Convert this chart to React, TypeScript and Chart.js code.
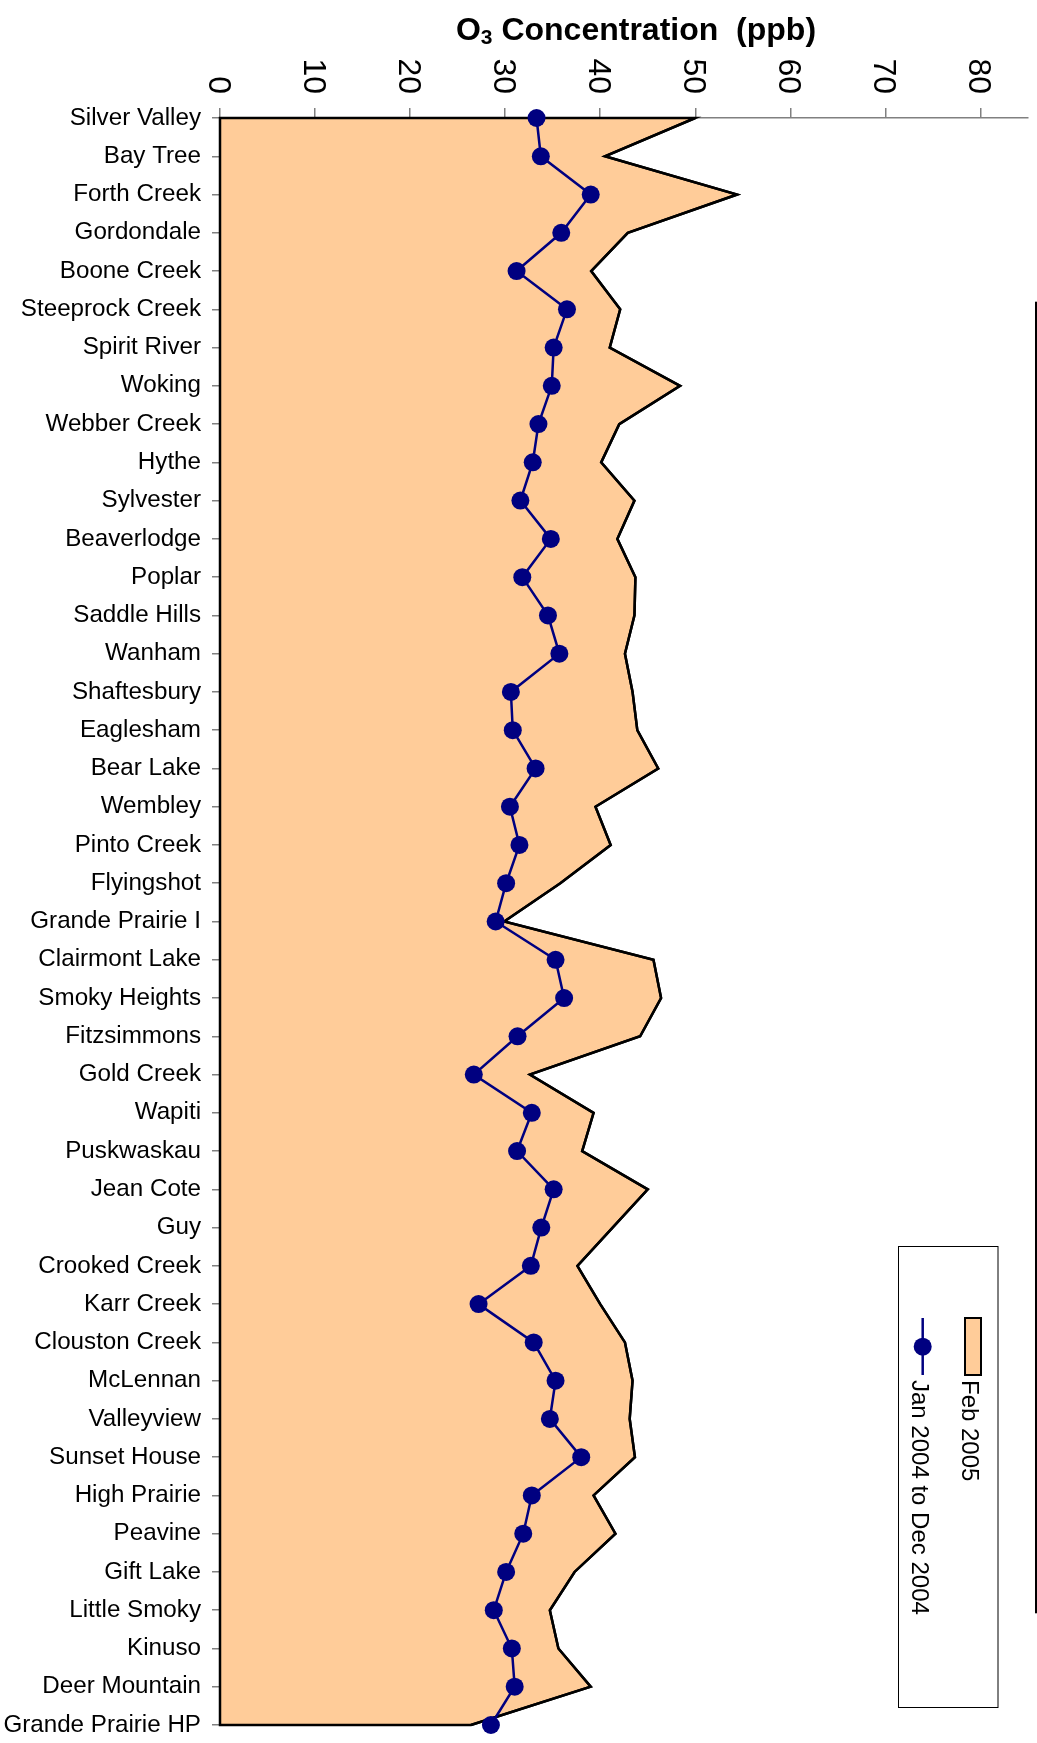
import React, { useEffect, useRef } from "react";
import { Chart, registerables } from "chart.js";

Chart.register(...registerables);

// ---------- data ----------
const stations = [
  "Silver Valley", "Bay Tree", "Forth Creek", "Gordondale", "Boone Creek",
  "Steeprock Creek", "Spirit River", "Woking", "Webber Creek", "Hythe",
  "Sylvester", "Beaverlodge", "Poplar", "Saddle Hills", "Wanham",
  "Shaftesbury", "Eaglesham", "Bear Lake", "Wembley", "Pinto Creek",
  "Flyingshot", "Grande Prairie I", "Clairmont Lake", "Smoky Heights", "Fitzsimmons",
  "Gold Creek", "Wapiti", "Puskwaskau", "Jean Cote", "Guy",
  "Crooked Creek", "Karr Creek", "Clouston Creek", "McLennan", "Valleyview",
  "Sunset House", "High Prairie", "Peavine", "Gift Lake", "Little Smoky",
  "Kinuso", "Deer Mountain", "Grande Prairie HP",
];

const feb2005 = [
  50.0, 40.5, 54.4, 42.9, 39.05,
  42.1, 41.0, 48.4, 42.0, 40.1,
  43.6, 41.8, 43.7, 43.6, 42.6,
  43.4, 43.9, 46.1, 39.5, 41.1,
  35.8, 29.9, 45.6, 46.4, 44.2,
  32.6, 39.3, 38.1, 45.0, 41.3,
  37.6, 40.0, 42.6, 43.4, 43.1,
  43.65, 39.3, 41.6, 37.3, 34.7,
  35.6, 39.0, 26.4,
];

const jan2004ToDec2004 = [
  33.3, 33.75, 39.0, 35.9, 31.2,
  36.5, 35.1, 34.9, 33.5, 32.9,
  31.6, 34.8, 31.8, 34.5, 35.7,
  30.6, 30.8, 33.2, 30.5, 31.5,
  30.1, 29.0, 35.3, 36.2, 31.3,
  26.7, 32.8, 31.25, 35.1, 33.8,
  32.7, 27.2, 33.0, 35.3, 34.7,
  38.0, 32.8, 31.9, 30.1, 28.8,
  30.7, 31.0, 28.5,
];

const xTickValues = [0, 10, 20, 30, 40, 50, 60, 70, 80];
const xAxisMax = 85;

const seriesNames = ["Feb 2005", "Jan 2004 to Dec 2004"];
const titleMain = "O";
const titleSub = "3";
const titleRest = " Concentration  (ppb)";

// ---------- styles ----------
const FONT = '"Liberation Sans", Arial, Helvetica, sans-serif';
const AREA_FILL = "#FFCC99";
const NAVY = "#000080";
const AXIS_GRAY = "#808080";

const decorPlugin = {
  id: "decor",
  afterDatasetDraw(chart: any, args: any) {
    if (args.index !== 0) return;
    const ctx = chart.ctx;
    const pts = args.meta.data;
    if (!pts || !pts.length) return;
    const x0 = chart.scales.x.getPixelForValue(0);
    ctx.save();
    ctx.beginPath();
    ctx.moveTo(x0, pts[0].y);
    for (const p of pts) ctx.lineTo(p.x, p.y);
    ctx.lineTo(x0, pts[pts.length - 1].y);
    ctx.closePath();
    ctx.lineWidth = 2.5;
    ctx.lineJoin = "miter";
    ctx.strokeStyle = "#000";
    ctx.stroke();
    ctx.restore();
  },
  afterDraw(chart: any) {
    const ctx = chart.ctx;
    const xs = chart.scales.x;

    // rotated value-axis tick labels
    ctx.save();
    ctx.fillStyle = "#000";
    ctx.font = `32px ${FONT}`;
    ctx.textAlign = "right";
    ctx.textBaseline = "alphabetic";
    for (const t of xs.ticks) {
      const px = xs.getPixelForValue(t.value);
      ctx.save();
      ctx.translate(px, 94);
      ctx.rotate(Math.PI / 2);
      ctx.fillText(String(t.value), 0, 11.5);
      ctx.restore();
    }
    ctx.restore();

    // title with subscript
    ctx.save();
    ctx.fillStyle = "#000";
    ctx.textAlign = "left";
    ctx.textBaseline = "alphabetic";
    const mainFont = `bold 32px ${FONT}`;
    const subFont = `bold 21px ${FONT}`;
    ctx.font = mainFont;
    const wMain = ctx.measureText(titleMain).width;
    const wRest = ctx.measureText(titleRest).width;
    ctx.font = subFont;
    const wSub = ctx.measureText(titleSub).width;
    const total = wMain + wSub + wRest;
    let tx = 636 - total / 2;
    ctx.font = mainFont;
    ctx.fillText(titleMain, tx, 40);
    tx += wMain;
    ctx.font = subFont;
    ctx.fillText(titleSub, tx, 43.5);
    tx += wSub;
    ctx.font = mainFont;
    ctx.fillText(titleRest, tx, 40);
    ctx.restore();

    // legend (rotated)
    const ds = chart.data.datasets;
    ctx.save();
    ctx.fillStyle = "#fff";
    ctx.fillRect(898.5, 1246.5, 99.5, 461);
    ctx.strokeStyle = "#000";
    ctx.lineWidth = 1;
    ctx.strokeRect(898.5, 1246.5, 99.5, 461);

    // area swatch
    ctx.fillStyle = ds[0].backgroundColor;
    ctx.fillRect(965, 1318, 16, 57);
    ctx.strokeStyle = "#000";
    ctx.lineWidth = 2;
    ctx.strokeRect(965, 1318, 16, 57);

    // line swatch
    ctx.strokeStyle = NAVY;
    ctx.lineWidth = 2.5;
    ctx.beginPath();
    ctx.moveTo(922.7, 1318);
    ctx.lineTo(922.7, 1375);
    ctx.stroke();
    ctx.fillStyle = NAVY;
    ctx.beginPath();
    ctx.arc(922.7, 1346.7, 9, 0, Math.PI * 2);
    ctx.fill();

    ctx.fillStyle = "#000";
    ctx.font = `24px ${FONT}`;
    ctx.textAlign = "left";
    ctx.textBaseline = "alphabetic";
    ctx.save();
    ctx.translate(962, 1380);
    ctx.rotate(Math.PI / 2);
    ctx.fillText(ds[0].label, 0, 0);
    ctx.restore();
    ctx.save();
    ctx.translate(912, 1380);
    ctx.rotate(Math.PI / 2);
    ctx.fillText(ds[1].label, 0, 0);
    ctx.restore();
    ctx.restore();

    // right border line
    ctx.save();
    ctx.fillStyle = "#000";
    ctx.fillRect(1035, 301.7, 2, 1311.6);
    ctx.restore();
  },
};

export default function App() {
  const canvasRef = useRef<HTMLCanvasElement | null>(null);

  useEffect(() => {
    document.body.style.margin = "0";
    const canvas = canvasRef.current;
    if (!canvas) return;
    const chart = new Chart(canvas, {
      type: "line",
      data: {
        labels: stations,
        datasets: [
          {
            label: seriesNames[0],
            data: feb2005,
            fill: "origin",
            backgroundColor: AREA_FILL,
            borderColor: "#000",
            borderWidth: 2.5,
            pointRadius: 0,
            pointHoverRadius: 0,
            tension: 0,
            order: 2,
          },
          {
            label: seriesNames[1],
            data: jan2004ToDec2004,
            fill: false,
            borderColor: NAVY,
            backgroundColor: NAVY,
            borderWidth: 2.5,
            pointRadius: 9,
            pointHoverRadius: 9,
            pointBackgroundColor: NAVY,
            pointBorderWidth: 0,
            tension: 0,
            order: 1,
            clip: false,
          },
        ],
      },
      options: {
        indexAxis: "y",
        animation: false,
        responsive: false,
        events: [],
        layout: { padding: { left: 0, top: 0, right: 1, bottom: 18 } },
        plugins: {
          legend: { display: false },
          tooltip: { enabled: false },
          title: { display: false },
        },
        scales: {
          x: {
            type: "linear",
            position: "top",
            min: 0,
            max: xAxisMax,
            ticks: { stepSize: 10, display: false },
            afterBuildTicks: (s: any) => {
              s.ticks = xTickValues.map((v) => ({ value: v }));
            },
            afterFit: (s: any) => {
              s.height = 118;
              s.paddingLeft = 0;
              s.paddingRight = 0;
            },
            grid: {
              drawOnChartArea: false,
              drawTicks: true,
              tickLength: 10,
              color: AXIS_GRAY,
              lineWidth: 1.5,
            },
            border: { display: true, color: AXIS_GRAY, width: 1.5 },
          },
          y: {
            type: "category",
            offset: false,
            ticks: {
              autoSkip: false,
              font: { family: FONT, size: 24.2 },
              color: "#000",
              padding: 11,
            },
            afterFit: (s: any) => {
              s.width = 220;
              s.paddingTop = 0;
              s.paddingBottom = 0;
            },
            grid: {
              drawOnChartArea: false,
              drawTicks: true,
              tickLength: 8,
              color: AXIS_GRAY,
              lineWidth: 1.5,
            },
            border: { display: true, color: "#000", width: 2 },
          },
        },
      } as any,
      plugins: [decorPlugin],
    });
    return () => chart.destroy();
  }, []);

  return (
    <div style={{ width: 1037, height: 1743, position: "relative" }}>
      <canvas
        ref={canvasRef}
        width={1037}
        height={1743}
        style={{ display: "block", width: 1037, height: 1743 }}
      />
    </div>
  );
}
